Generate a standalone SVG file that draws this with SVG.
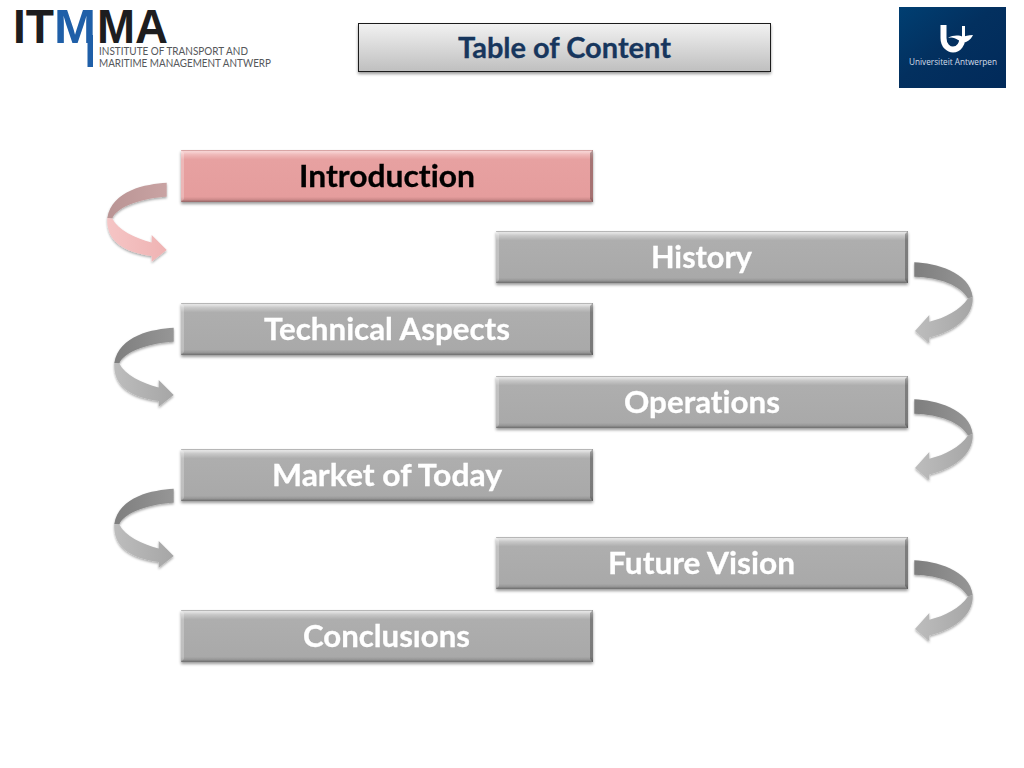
<svg xmlns="http://www.w3.org/2000/svg" width="1024" height="768" viewBox="0 0 1024 768">
<style>
text{font-family:"Lato","Liberation Sans",sans-serif;font-weight:700;text-anchor:start;font-variant-ligatures:none}
.lbl{font-size:31px;fill:#fff;stroke:#fff;stroke-width:.3}
.sel{fill:#000;stroke:#000}
.ttl{font-size:29px;fill:#17365d;stroke:#17365d;stroke-width:.3}
.big{font-family:"Liberation Sans",Arial,sans-serif;font-size:48px;fill:#1d1d1f}
.blue{fill:#1f5fa8}
.small{font-weight:400;font-size:10.8px;fill:#55575a}
.ua{font-family:"Open Sans","Liberation Sans",sans-serif;font-weight:400;font-size:9.5px;fill:#d3deea}
.gu{fill:url(#gUp)}.gl{fill:url(#gLow)}.pu{fill:url(#pUp)}.pl{fill:url(#pLow)}
.sh{filter:url(#shadow)}
</style>
<defs>
<filter id="shadow" x="-3%" y="-15%" width="106%" height="135%"><feDropShadow dx="0" dy="2" stdDeviation="1.6" flood-color="#000" flood-opacity=".4"/></filter>
<filter id="ashadow" x="-15%" y="-10%" width="130%" height="125%"><feDropShadow dx="0" dy="1.500" stdDeviation="1.200" flood-color="#000" flood-opacity=".35"/></filter>
<linearGradient id="tg" x1="0" y1="0" x2="0" y2="1"><stop offset="0" stop-color="#f2f2f2"/><stop offset="1" stop-color="#bfbfbf"/></linearGradient>
<linearGradient id="ua" x1="0" y1="0" x2="1" y2="1"><stop offset="0" stop-color="#003f72"/><stop offset=".45" stop-color="#03305f"/><stop offset="1" stop-color="#012a5a"/></linearGradient>
<linearGradient id="gUp" x1="0" y1="0" x2="1" y2="0"><stop offset="0" stop-color="#7e7e7e"/><stop offset="1" stop-color="#969696"/></linearGradient>
<linearGradient id="gLow" x1="0" y1="0" x2="1" y2="0"><stop offset="0" stop-color="#bdbdbd"/><stop offset="1" stop-color="#a6a6a6"/></linearGradient>
<linearGradient id="pUp" x1="0" y1="0" x2="1" y2="0"><stop offset="0" stop-color="#b99494"/><stop offset="1" stop-color="#c9a3a3"/></linearGradient>
<linearGradient id="pLow" x1="0" y1="0" x2="1" y2="0"><stop offset="0" stop-color="#f5c5c5"/><stop offset="1" stop-color="#efb3b3"/></linearGradient>
<linearGradient id="bg" x1="0" y1="0" x2="0" y2="1"><stop offset="0" stop-color="#a0a0a0"/><stop offset=".03" stop-color="#e6e6e6"/><stop offset=".09" stop-color="#c8c8c8"/><stop offset=".18" stop-color="#aeaeae"/><stop offset=".9" stop-color="#a9a9a9"/><stop offset=".95" stop-color="#989898"/><stop offset="1" stop-color="#6c6c6c"/></linearGradient>
<linearGradient id="bp" x1="0" y1="0" x2="0" y2="1"><stop offset="0" stop-color="#c99090"/><stop offset=".03" stop-color="#f8d5d5"/><stop offset=".09" stop-color="#efb9b9"/><stop offset=".18" stop-color="#e7a1a1"/><stop offset=".9" stop-color="#e59d9d"/><stop offset=".95" stop-color="#cf8c8c"/><stop offset="1" stop-color="#946565"/></linearGradient>
<g id="edges">
<path d="M0 0L3 3V49L0 52Z" fill="#fff" fill-opacity=".25"/>
<path d="M412 0L409 3V49L412 52Z" fill="#000" fill-opacity=".28"/>
</g>
<g id="bevelG"><rect width="412" height="52" fill="url(#bg)"/><use href="#edges"/></g>
<g id="bevelP"><rect width="412" height="52" fill="url(#bp)"/><use href="#edges"/></g>
<path id="lUp" d="M166.700 182.700C146 184 112 190 107.300 218L112.300 218.500C117 206 145 197.500 166.700 196.700Z"/>
<path id="lLow" d="M107.300 218C106 240 122 252 151.700 256V261.700L166.700 250L151.700 235V242.500C135 238 118 230 112.300 218.500Z"/>
<path id="rUp" d="M914.300 262.300C935 263 970 272 972.700 297L968 298.500C960 285 940 277.500 914.300 276.700Z"/>
<path id="rLow" d="M972.700 297C974 319 950 333 929.300 337.500V343.300L915 331L929.300 315V321.700C945 318 960 310 968 298.500Z"/>
</defs>

<g id="logo-itmma">
<text class="big" x="13" y="43" textLength="41" lengthAdjust="spacingAndGlyphs">IT</text>
<text class="big blue" x="54" y="43" textLength="42" lengthAdjust="spacingAndGlyphs">M</text>
<rect x="87.500" y="35" width="5.500" height="32" fill="#1f5fa8"/>
<text class="big" x="97" y="43" textLength="71" lengthAdjust="spacingAndGlyphs">MA</text>
<text class="small" x="99" y="55" textLength="149" lengthAdjust="spacingAndGlyphs">INSTITUTE OF TRANSPORT AND</text>
<text class="small" x="99" y="67" textLength="172" lengthAdjust="spacingAndGlyphs">MARITIME MANAGEMENT ANTWERP</text>
</g>

<g id="logo-ua">
<rect x="899" y="7" width="107" height="81" fill="url(#ua)"/>
<path d="M943.500 25V38C943.500 46 949 49.500 953 49.500C959 49.500 962 44 962.500 38" fill="none" stroke="#fff" stroke-width="6"/>
<path d="M948 38C955 35 961 44 966 42C970 40.500 972 37 973 35C968 35 965 36 963 37C959 35 953 35 948 38Z" fill="#fff"/>
<path d="M963.500 26V37" stroke="#fff" stroke-width="3" fill="none"/>
<text class="ua" x="909" y="65" textLength="88" lengthAdjust="spacingAndGlyphs">Universiteit Antwerpen</text>
</g>

<g id="node-title">
<rect class="sh" x="358.500" y="23.500" width="412" height="48" fill="url(#tg)" stroke="#1a1a1a" stroke-width="1"/>
<text class="ttl" x="458" y="58" textLength="213" lengthAdjust="spacingAndGlyphs">Table of Content</text>
</g>

<g id="connectors" filter="url(#ashadow)">
<g id="conn-intro-history"><use href="#lUp" class="pu"/><use href="#lLow" class="pl"/></g>
<g id="conn-history-technical"><use href="#rUp" class="gu"/><use href="#rLow" class="gl"/></g>
<g id="conn-technical-operations" transform="translate(7 145)"><use href="#lUp" class="gu"/><use href="#lLow" class="gl"/></g>
<g id="conn-operations-market" transform="translate(0 137)"><use href="#rUp" class="gu"/><use href="#rLow" class="gl"/></g>
<g id="conn-market-future" transform="translate(7 306)"><use href="#lUp" class="gu"/><use href="#lLow" class="gl"/></g>
<g id="conn-future-conclusions" transform="translate(0 298)"><use href="#rUp" class="gu"/><use href="#rLow" class="gl"/></g>
</g>

<g id="node-introduction"><use class="sh" href="#bevelP" x="181" y="150"/><text class="lbl sel" x="299" y="187" textLength="176" lengthAdjust="spacingAndGlyphs">Introduction</text></g>
<g id="node-history"><use class="sh" href="#bevelG" x="496" y="231"/><text class="lbl" x="651" y="268" textLength="101" lengthAdjust="spacingAndGlyphs">History</text></g>
<g id="node-technical"><use class="sh" href="#bevelG" x="181" y="303"/><text class="lbl" x="264" y="340" textLength="246" lengthAdjust="spacingAndGlyphs">Technical Aspects</text></g>
<g id="node-operations"><use class="sh" href="#bevelG" x="496" y="376"/><text class="lbl" x="624" y="413" textLength="156" lengthAdjust="spacingAndGlyphs">Operations</text></g>
<g id="node-market"><use class="sh" href="#bevelG" x="181" y="449"/><text class="lbl" x="272" y="486" textLength="230" lengthAdjust="spacingAndGlyphs">Market of Today</text></g>
<g id="node-future"><use class="sh" href="#bevelG" x="496" y="537"/><text class="lbl" x="608" y="574" textLength="187" lengthAdjust="spacingAndGlyphs">Future Vision</text></g>
<g id="node-conclusions"><use class="sh" href="#bevelG" x="181" y="610"/><text class="lbl" x="303" y="647" textLength="167" lengthAdjust="spacingAndGlyphs">Conclusıons</text></g>
</svg>
